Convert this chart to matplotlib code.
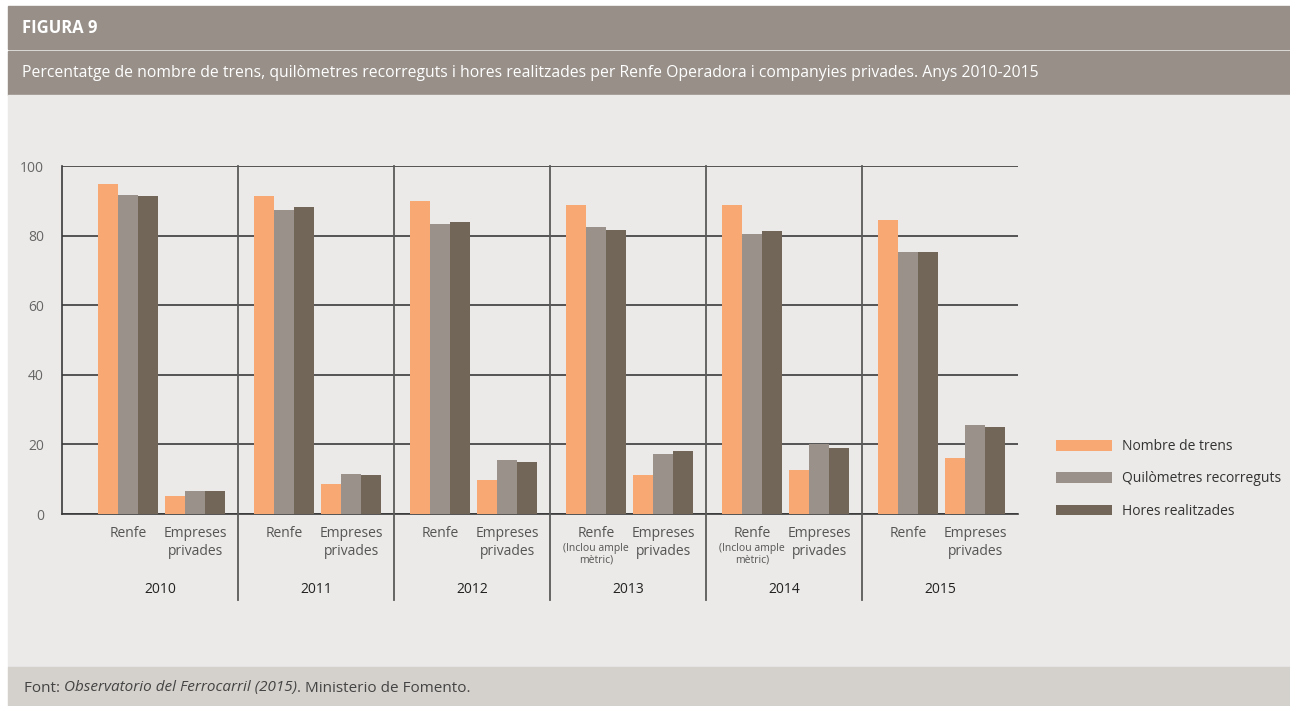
import matplotlib
matplotlib.use('Agg')
import matplotlib.pyplot as plt
from matplotlib import rcParams
from matplotlib.patches import Rectangle
import matplotlib.transforms as mtransforms
import numpy as np

rcParams['font.family'] = ['Open Sans', 'DejaVu Sans']

years = ['2010', '2011', '2012', '2013', '2014', '2015']
series = ['Nombre de trens', 'Quilòmetres recorreguts', 'Hores realitzades']
colors = ['#f8a873', '#9a918a', '#716657']

# Renfe values per year (one list per series)
renfe_trens = [94.7, 91.3, 89.8, 88.7, 88.7, 84.4]
renfe_km = [91.8, 87.5, 83.2, 82.4, 80.4, 75.2]
renfe_hores = [91.3, 88.1, 83.8, 81.5, 81.2, 75.2]

# Empreses privades values per year
priv_trens = [5.2, 8.6, 9.8, 11.2, 12.6, 16.1]
priv_km = [6.6, 11.5, 15.5, 17.2, 20.1, 25.5]
priv_hores = [6.6, 11.2, 14.9, 18.1, 18.9, 25.0]

renfe_labels = ['Renfe', 'Renfe', 'Renfe', 'Renfe', 'Renfe', 'Renfe']
renfe_notes = ['', '', '', '(Inclou ample\nmètric)', '(Inclou ample\nmètric)', '']
priv_label = 'Empreses\nprivades'

W, H = 1290, 706
fig = plt.figure(figsize=(W / 100, H / 100), dpi=100)
fig.patch.set_facecolor('white')

def px(x0, y0, w, h, color):
    fig.patches.append(Rectangle((x0 / W, 1 - (y0 + h) / H), w / W, h / H,
                                 transform=fig.transFigure, color=color, zorder=-10))

# background bands
px(8, 6, W - 8, 43, '#978f88')
px(8, 51, W - 8, 44, '#978f88')
px(8, 95, W - 8, 572, '#ebeae8')
px(8, 667, W - 8, 39, '#d4d0cb')

fig.text(22 / W, 1 - 28 / H, 'FIGURA 9', color='white', fontsize=12, fontweight='bold',
         va='center', ha='left')
fig.text(22 / W, 1 - 73 / H,
         'Percentatge de nombre de trens, quilòmetres recorreguts i hores realitzades per Renfe Operadora i companyies privades. Anys 2010-2015',
         color='white', fontsize=11.3, va='center', ha='left')

# axes: pixel box left 62, right 1018, top 166, bottom 514
ax = fig.add_axes([62 / W, 1 - 514 / H, (1018 - 62) / W, (514 - 166) / H])
ax.set_facecolor('none')

x = np.arange(len(years))
bw = 0.128
renfe_c = x + 0.295
priv_c = x + 0.725
for k, (rv, pv) in enumerate([(renfe_trens, priv_trens), (renfe_km, priv_km), (renfe_hores, priv_hores)]):
    ax.bar(renfe_c + (k - 1) * bw, rv, bw, color=colors[k], zorder=3, label=series[k])
    ax.bar(priv_c + (k - 1) * bw, pv, bw, color=colors[k], zorder=3)

ax.set_xlim(-0.128, 6.0)
ax.set_ylim(0, 100)
ax.set_yticks([0, 20, 40, 60, 80, 100])
ax.yaxis.grid(True, color='#3a3a3a', linewidth=1.2, zorder=1)
ax.tick_params(axis='y', length=0, pad=13, labelsize=10, labelcolor='#666666')
ax.set_xticks([])
for s in ['top', 'right']:
    ax.spines[s].set_visible(False)
ax.spines['left'].set_color('#3a3a3a')
ax.spines['bottom'].set_color('#3a3a3a')
ax.spines['left'].set_linewidth(1.2)
ax.spines['bottom'].set_linewidth(1.2)

trans = mtransforms.blended_transform_factory(ax.transData, ax.transAxes)
for i in range(1, len(years)):
    ax.plot([i, i], [-0.247, 1], color='#5a5a5a', linewidth=1.3, transform=trans, clip_on=False, zorder=4)

for i, yr in enumerate(years):
    ax.text(renfe_c[i], -0.034, renfe_labels[i], transform=trans, ha='center', va='top',
            fontsize=10, color='#555555')
    if renfe_notes[i]:
        ax.text(renfe_c[i], -0.082, renfe_notes[i], transform=trans, ha='center', va='top',
                fontsize=7.5, color='#555555', linespacing=1.1)
    ax.text(priv_c[i], -0.034, priv_label, transform=trans, ha='center', va='top',
            fontsize=10, color='#555555', linespacing=1.25)
    ax.text(x[i] + 0.5, -0.218, yr, transform=trans, ha='center', va='center',
            fontsize=10, color='#222222')

leg = fig.legend(loc='center left', bbox_to_anchor=(1056 / W, 1 - 479 / H), frameon=False,
                 fontsize=10, handlelength=4.0, handleheight=0.8, handletextpad=0.75,
                 labelspacing=1.25, borderpad=0, borderaxespad=0)
for t in leg.get_texts():
    t.set_color('#333333')

# footer with italic source
fy = 1 - 688 / H
renderer = fig.canvas.get_renderer()
xpos = 24 / W
for txt, style in [('Font: ', 'normal'), ('Observatorio del Ferrocarril (2015)', 'italic'),
                   ('. Ministerio de Fomento.', 'normal')]:
    t = fig.text(xpos, fy, txt, fontsize=11, style=style, color='#444444', va='center', ha='left')
    bb = t.get_window_extent(renderer)
    xpos += bb.width / W

fig.savefig('out.png', dpi=100, facecolor=fig.get_facecolor())
